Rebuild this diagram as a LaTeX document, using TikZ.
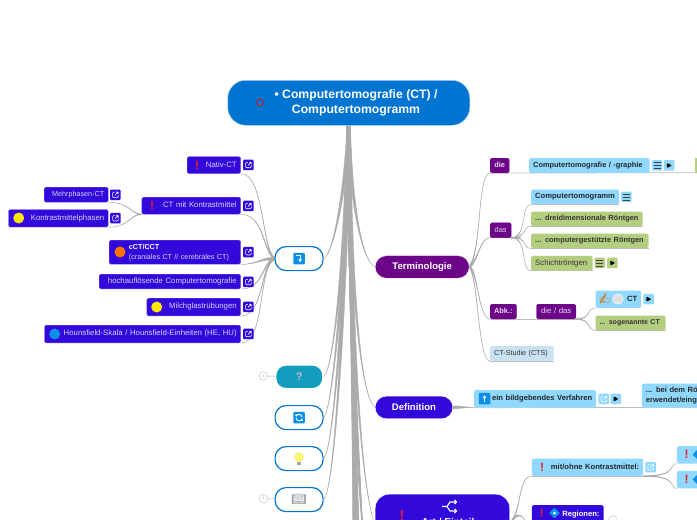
\documentclass[tikz,border=0pt]{standalone}
\usepackage{fontspec}
\setmainfont{Liberation Sans}
\newfontfamily\emojif{Noto Emoji}
\usetikzlibrary{calc, positioning, backgrounds, shapes.geometric, arrows.meta}
\definecolor{deep}{HTML}{3309DB}
\definecolor{lav}{HTML}{D6D0FF}
\definecolor{plum}{HTML}{6C0588}
\definecolor{rootblue}{HTML}{0074D1}
\definecolor{sky}{HTML}{90D8FF}
\definecolor{leaf}{HTML}{B4CE80}
\definecolor{pale}{HTML}{C8E2F2}
\definecolor{teal}{HTML}{149DBF}
\definecolor{linkgrey}{HTML}{ABABAB}
\definecolor{emblem}{HTML}{0B8FE6}
\definecolor{bang}{HTML}{EE1C25}
\newcommand{\taperlink}[5]{\filldraw[taper] ($(#1)+(#5)$) .. controls ($(#2)+(#5)$) and (#3) .. (#4) .. controls (#3) and ($(#2)-(#5)$) .. ($(#1)-(#5)$) -- cycle;}
\tikzset{
  taper/.style={fill=linkgrey, draw=linkgrey, line width=.4},
  underline/.style={draw=linkgrey!80, line width=.7},
  tagline/.style={draw=black!25, line width=.5},
  boxbase/.style={anchor=north west, inner xsep=4, inner ysep=0, rounded corners=1.5, line width=.4, text height=5.4, text depth=1.6, font=\fontsize{7.8}{10}\selectfont},
  wd/.style={text width={#1pt-8pt}},
  ht/.style={minimum height=#1},
  deepbox/.style={boxbase, fill=deep, draw=deep!70!white, text=lav, align=right},
  plumbox/.style={boxbase, fill=plum, draw=plum, text=white!85!plum, font=\fontsize{7.4}{9}\selectfont\bfseries, align=center},
  skybox/.style={boxbase, fill=sky, text=black!85, font=\fontsize{7.6}{10.4}\selectfont\bfseries, align=left},
  leafbox/.style={boxbase, fill=leaf, text=black!80, font=\fontsize{7.4}{9}\selectfont\bfseries, align=left},
  topic/.style={anchor=north west, rounded corners=11, minimum height=22.5, inner sep=0, text=white, font=\fontsize{9.6}{12}\selectfont\bfseries},
  bubble/.style={anchor=north west, rounded corners=11, minimum width=48, minimum height=24, inner sep=0, fill=white, draw=rootblue, line width=1.2},
  iconbox/.style={anchor=north west, rounded corners=1, inner sep=0, minimum width=10.5, minimum height=10.5},
  openmark/.style={iconbox, path picture={\draw[white, line width=.6, shift={(path picture bounding box.center)}] (-.5,-2.6) -- (-2.8,-2.6) -- (-2.8,2.8) -- (2.8,2.8) -- (2.8,.5) (-.4,.4) -- (2.8,-2.8) (.6,-2.8) -- (2.8,-2.8) -- (2.8,-.6);}},
  playmark/.style={iconbox, fill=sky, path picture={\fill[black, shift={(path picture bounding box.center)}] (-2.2,-2.6) -- (2.8,0) -- (-2.2,2.6) -- cycle;}},
  menumark/.style={iconbox, path picture={\draw[black!75, line width=.6, shift={(path picture bounding box.center)}] (-3.4,-3) -- (3.4,-3) (-3.4,0) -- (3.4,0) (-3.4,3) -- (3.4,3);}},
  emblemsq/.style={rounded corners=1, inner sep=0, minimum size=11.5, fill=emblem},
  ball/.style={circle, inner sep=0, minimum size=#1},
  redbang/.style={inner sep=0, text=bang, font=\fontsize{12}{12}\selectfont\bfseries},
  tag/.style={circle, draw=black!25, fill=white, line width=.4, inner sep=0, minimum size=8.5, text=black!45, font=\fontsize{3.5}{4}\selectfont}
}
\begin{document}
\begin{tikzpicture}[x=1pt, y=-1pt]
  \useasboundingbox (0,0) rectangle (697,520);

  \node[anchor=north west, fill=rootblue, draw=rootblue!35, line width=.5, rounded corners=18, minimum width=242, minimum height=45, inner sep=0] (root) at (227.5,80) {};
  \node[align=center, inner sep=0, text=white, font=\fontsize{12.2}{14.6}\selectfont\bfseries] (roottext) at (356,103) {• Computertomografie (CT) /\\Computertomogramm};
  \node[circle, draw=bang!85!black, line width=.8, inner sep=0, minimum size=7] (rootring) at (260,102.5) {};
  \coordinate (rootfoot) at (348.7,125);

  \node[bubble] (turn) at (274.5,246) {};
  \node[bubble, fill=teal, draw=white, rounded corners=10, minimum width=47, minimum height=23.5] (quest) at (275.2,364.5) {};
  \node[text=white!75!black, inner sep=0, font=\fontsize{11}{11}\selectfont\bfseries] (questmark) at (quest.center) {?};
  \node[bubble] (sync) at (274.5,405) {};
  \node[bubble] (bulb) at (274.5,446) {};
  \node[bubble] (book) at (274.5,487) {};

  \node[tag] (tagquest) at (263.5,376) {3};
  \node[tag] (tagbook) at (263.5,498.7) {4};

  \node[emblemsq] (turnmark) at (turn.center) {};
  \draw[white, line width=1.1, -{Latex[length=3,width=4]}] ($(turnmark.center)+(-3,-3)$) -- ($(turnmark.center)+(1,-3)$) -- ($(turnmark.center)+(1,3.8)$);
  \node[emblemsq] (syncmark) at (sync.center) {};
  \draw[white, line width=.9, -{Latex[length=2,width=3]}] ($(syncmark.center)+(-3,.3)$) arc[start angle=180, end angle=10, radius=3];
  \draw[white, line width=.9, -{Latex[length=2,width=3]}] ($(syncmark.center)+(3,-.3)$) arc[start angle=0, end angle=-170, radius=3];
  \node[ball=8.5, fill=yellow!55!white, draw=yellow!80!orange, line width=.3] (bulbglass) at ($(bulb.center)+(0,-1.5)$) {};
  \node[inner sep=0, minimum width=3.5, minimum height=3, fill=black!35] (bulbfoot) at ($(bulb.center)+(0,4.5)$) {};
  \node[inner sep=0, text=black!45!pale, font=\emojif\fontsize{12}{12}\selectfont] (bookmark) at (book.center) {📖};

  \node[deepbox, wd=53.5, ht=16.8] (nativ) at (187,156.5) {Nativ-CT};
  \node[redbang] (nativbang) at (197,165) {!};
  \node[openmark, fill=deep] (nativopen) at (243,159.5) {};

  \node[deepbox, wd=98.8, ht=17] (ctkm) at (141.7,197) {CT mit Kontrastmittel};
  \node[redbang] (ctkmbang) at (152,205.5) {!};
  \node[openmark, fill=deep] (ctkmopen) at (243,200.5) {};

  \node[deepbox, wd=64, ht=15, font=\fontsize{7.2}{9}\selectfont] (mehr) at (44,187) {Mehrphasen-CT};
  \node[openmark, fill=deep] (mehropen) at (110,189.3) {};
  \node[deepbox, wd=99.7, ht=17.5] (kmph) at (8.3,209.3) {Kontrastmittelphasen};
  \node[ball=11, fill=yellow!90!orange] (kmphball) at (18.7,218) {};
  \node[openmark, fill=deep] (kmphopen) at (110,212.7) {};

  \node[deepbox, wd=131.5, ht=24, align=left, text height=, text depth=, font=\fontsize{7.2}{10}\selectfont] (cct) at (109,240) {\hspace*{15.7pt}\textcolor{white}{\textbf{cCT/CCT}}\\\hspace*{15.7pt}(craniales CT // cerebrales CT)};
  \node[ball=11, fill=orange!90!red] (cctball) at (120,252) {};
  \node[openmark, fill=deep] (cctopen) at (243,246.7) {};

  \node[deepbox, wd=141.5, ht=14.7] (hoch) at (99,274) {hochauflösende Computertomografie};
  \node[openmark, fill=deep] (hochopen) at (243,276.5) {};

  \node[deepbox, wd=93.8, ht=17.7] (milch) at (146.7,298) {Milchglastrübungen};
  \node[ball=11, fill=yellow!90!orange] (milchball) at (156.7,307) {};
  \node[openmark, fill=deep] (milchopen) at (243,301.5) {};

  \node[deepbox, wd=196.2, ht=17.7] (hounsf) at (44.3,325) {Hounsfield-Skala / Hounsfield-Einheiten (HE, HU)};
  \node[ball=11, fill=emblem] (hounsfball) at (54.7,334) {};
  \node[openmark, fill=deep] (hounsfopen) at (243,328.5) {};

  \node[topic, fill=plum, draw=white, minimum width=94] (termin) at (375,255.5) {Terminologie};
  \node[topic, fill=deep, draw=white, minimum width=77.5] (defin) at (375,396) {Definition};
  \node[topic, fill=deep, draw=white, minimum width=134.5, minimum height=60, rounded corners=14] (artein) at (375,494) {};
  \node[inner sep=0, text=white, font=\fontsize{10}{12}\selectfont\bfseries] (arttext) at (448,522) {Art / Einteil};
  \node[redbang, font=\fontsize{14}{14}\selectfont\bfseries] (artbang) at (402,516) {!};
  \coordinate (artshuffle) at (450,506.5);
  \draw[white, line width=1.1] ($(artshuffle)+(-8,0)$) -- ($(artshuffle)+(-3,0)$) -- ($(artshuffle)+(0,-4.5)$) -- ($(artshuffle)+(6,-4.5)$) ($(artshuffle)+(-3,0)$) -- ($(artshuffle)+(0,4.5)$) -- ($(artshuffle)+(6,4.5)$);
  \draw[white, line width=1.1] ($(artshuffle)+(4.5,-6.5)$) -- ($(artshuffle)+(6.5,-4.5)$) -- ($(artshuffle)+(4.5,-2.5)$) ($(artshuffle)+(4.5,2.5)$) -- ($(artshuffle)+(6.5,4.5)$) -- ($(artshuffle)+(4.5,6.5)$);

  \node[plumbox, ht=14.7, inner xsep=2, text width=15] (die) at (490,158) {die};
  \node[skybox, wd=120.3, ht=14.7, font=\fontsize{7.4}{9}\selectfont\bfseries] (cgraphie) at (529,158) {Computertomografie / -graphie};
  \node[menumark, fill=sky] (cgraphiemenu) at (651.7,160) {};
  \node[playmark] (cgraphieplay) at (663.7,160) {};
  \node[anchor=north west, fill=leaf, inner sep=0, minimum width=4, minimum height=14.7] (cgraphieleaf) at (695,158) {};
  \coordinate (dieend) at (697,172.7);

  \node[plumbox, ht=14.7, inner xsep=2, text width=17, font=\fontsize{7.4}{9}\selectfont] (das) at (490,222.7) {das};
  \node[skybox, wd=88, ht=14.7] (ctgramm) at (531,189.3) {Computertomogramm};
  \node[menumark, fill=sky] (ctgrammmenu) at (621,191.5) {};
  \node[leafbox, wd=111.3, ht=14.7] (dreidim) at (531,211.3) {... dreidimensionale Röntgen};
  \node[leafbox, wd=117.3, ht=14.7] (compges) at (531,233.3) {... computergestützte Röntgen};
  \node[leafbox, wd=61.3, ht=14.7, font=\fontsize{7.8}{9}\selectfont] (schicht) at (531,255.7) {Schichtröntgen};
  \node[menumark, fill=leaf] (schichtmenu) at (594.3,257.5) {};
  \node[playmark, fill=leaf] (schichtplay) at (607,257.5) {};

  \node[plumbox, ht=14.7, inner xsep=1, text width=24.3] (abk) at (490,304) {Abk.:};
  \node[plumbox, wd=39.4, ht=14.7, font=\fontsize{7.8}{9}\selectfont] (diedas) at (536.3,304) {die / das};
  \node[skybox, wd=45.7, ht=17.4, align=right] (ctabk) at (595.3,290.3) {CT};
  \node[inner sep=0, text=orange!85!black, font=\emojif\fontsize{10.5}{10.5}\selectfont] (cthand) at (605,299) {✍};
  \node[ball=10.5, fill=black!12, draw=white, line width=.4] (ctchat) at (618,299) {};
  \node[playmark] (ctplay) at (643.2,293.7) {};
  \node[leafbox, wd=70, ht=14.7, font=\fontsize{7}{9}\selectfont\bfseries] (sogen) at (595.3,315.3) {... sogenannte CT};
  \node[boxbase, fill=pale, text=black!80, wd=63.3, ht=14.7, align=left, font=\fontsize{7.2}{9}\selectfont] (ctstudie) at (490,346) {CT-Studie (CTS)};

  \node[skybox, wd=122, ht=17.3, align=right] (bildgeb) at (474,390) {ein bildgebendes Verfahren};
  \node[emblemsq, fill=emblem] (bildgebmark) at (484.5,398.7) {};
  \draw[white, line width=1.2, -{Latex[length=3,width=4.5]}] ($(bildgebmark.center)+(0,3.5)$) -- ($(bildgebmark.center)+(0,-3.5)$);
  \node[openmark, fill=sky] (bildgebopen) at (598.3,393.5) {};
  \node[playmark] (bildgebplay) at (610.3,393.5) {};
  \node[skybox, wd=70, ht=24, text height=, text depth=] (beidem) at (641.7,383.3) {... bei dem Rön\\erwendet/eing};
  \coordinate (defend) at (697,407.3);

  \node[skybox, wd=111.3, ht=17.4, align=right] (mitohne) at (531.7,458.3) {mit/ohne Kontrastmittel:};
  \node[redbang] (mitohnebang) at (542,467) {!};
  \node[openmark, fill=sky] (mitohneopen) at (645.2,461.7) {};
  \node[skybox, minimum width=30, ht=17.4] (kma) at (676.7,446) {};
  \node[redbang] (kmabang) at (686.5,454.5) {!};
  \node[diamond, fill=emblem, inner sep=0, minimum size=9] (kmamark) at (697,454.5) {};
  \node[skybox, minimum width=30, ht=17.4] (kmb) at (676.7,470.7) {};
  \node[redbang] (kmbbang) at (686.5,479.5) {!};
  \node[diamond, fill=emblem, inner sep=0, minimum size=9] (kmbmark) at (697,479.5) {};

  \node[boxbase, fill=deep, text=white, font=\fontsize{7.6}{9}\selectfont\bfseries, ht=18, align=right, text width=63.6] (region) at (531.7,505) {Regionen:};
  \node[redbang] (regionbang) at (541.5,513.5) {!};
  \node[diamond, fill=emblem, inner sep=0, minimum size=11] (regionmark) at (554.5,513) {};
  \node[ball=3, fill=white] (regiondot) at (regionmark.center) {};
  \node[tag] (tagregion) at (613,520) {};

  \foreach \lowx [count=\lowi] in {353,354.5,356,357.5,359,363} {
    \coordinate (low\lowi) at (\lowx,532);
  }
  \coordinate (artlow) at (526,522);

  \begin{scope}[on background layer]
    \taperlink{rootfoot}{346,190}{333,255}{turn.east}{1.8,0}
    \taperlink{rootfoot}{346,230}{335,370}{quest.east}{1.8,0}
    \taperlink{rootfoot}{346,260}{333,410}{sync.east}{1.8,0}
    \taperlink{rootfoot}{346,280}{334,450}{bulb.east}{1.8,0}
    \taperlink{rootfoot}{346,300}{335,490}{book.east}{1.8,0}
    \taperlink{rootfoot}{350,190}{360,260}{termin.west}{1.8,0}
    \taperlink{rootfoot}{350,250}{358,395}{defin.west}{1.8,0}
    \taperlink{rootfoot}{350,300}{360,490}{artein.west}{1.8,0}
    \foreach \lowi in {1,...,6} {
      \taperlink{rootfoot}{349,250}{355,400}{low\lowi}{2,0}
      \draw[taper, line width=1.6] ($(rootfoot)+(0,90)$) .. controls (351,330) and (354,430) .. (low\lowi);
    }
    \draw[tagline] (tagquest) -- (quest);
    \draw[tagline] (tagbook) -- (book);

    \taperlink{turn.west}{262,250}{264,173}{nativ.south east}{0,1.2}
    \taperlink{turn.west}{263,252}{264,214}{ctkm.south east}{0,1.2}
    \taperlink{turn.west}{262,258}{258,264}{cct.south east}{0,1.2}
    \taperlink{turn.west}{262,262}{264,288.7}{hoch.south east}{0,1.2}
    \taperlink{turn.west}{260,265}{264,315.7}{milch.south east}{0,1.2}
    \taperlink{turn.west}{258,265}{266,342.7}{hounsf.south east}{0,1.2}
    \taperlink{ctkm.south west}{130,214}{130,202}{mehr.south east}{0,.3}
    \taperlink{ctkm.south west}{130,214}{130,227}{kmph.south east}{0,.3}

    \taperlink{termin.east}{482,250}{477,174}{die.south west}{0,1.4}
    \taperlink{termin.east}{478,262}{480,237}{das.south west}{0,1.4}
    \taperlink{termin.east}{478,270}{478,318}{abk.south west}{0,1.4}
    \taperlink{termin.east}{478,275}{478,361}{ctstudie.south west}{0,1.4}
    \draw[underline] (die.south west) -- (dieend);
    \draw[underline, line width=1.2] (das.south west) -- ($(das.south east)+(10,0)$);
    \taperlink{das.south east}{528,237}{520,205}{ctgramm.south west}{0,.3}
    \taperlink{das.south east}{528,237}{522,226}{dreidim.south west}{0,.3}
    \taperlink{das.south east}{528,237}{522,248}{compges.south west}{0,.3}
    \taperlink{das.south east}{528,237}{520,270}{schicht.south west}{0,.3}
    \draw[underline] (ctgramm.south west) -- (ctgramm.south east);
    \draw[underline] (dreidim.south west) -- (dreidim.south east);
    \draw[underline] (compges.south west) -- (compges.south east);
    \draw[underline] (schicht.south west) -- (schicht.south east);
    \draw[underline] (abk.south west) -- (diedas.south east);
    \taperlink{diedas.south east}{592,319}{586,308}{ctabk.south west}{0,.3}
    \taperlink{diedas.south east}{592,319}{586,330}{sogen.south west}{0,.3}
    \draw[underline] (sogen.south west) -- (sogen.south east);
    \draw[underline] (ctstudie.south west) -- (ctstudie.south east);

    \taperlink{defin.east}{460,407}{466,407.3}{bildgeb.south west}{0,1.5}
    \draw[underline] (bildgeb.south west) -- (defend);

    \taperlink{artein.east}{522,510}{518,476}{mitohne.south west}{0,1.2}
    \taperlink{artein.east}{516,512}{522,514}{artlow}{0,1.2}
    \draw[underline] (mitohne.south west) -- (mitohne.south east);
    \taperlink{mitohne.south east}{680,476}{668,463}{kma.south west}{0,.3}
    \taperlink{mitohne.south east}{680,476}{668,488}{kmb.south west}{0,.3}
  \end{scope}
\end{tikzpicture}
\end{document}
